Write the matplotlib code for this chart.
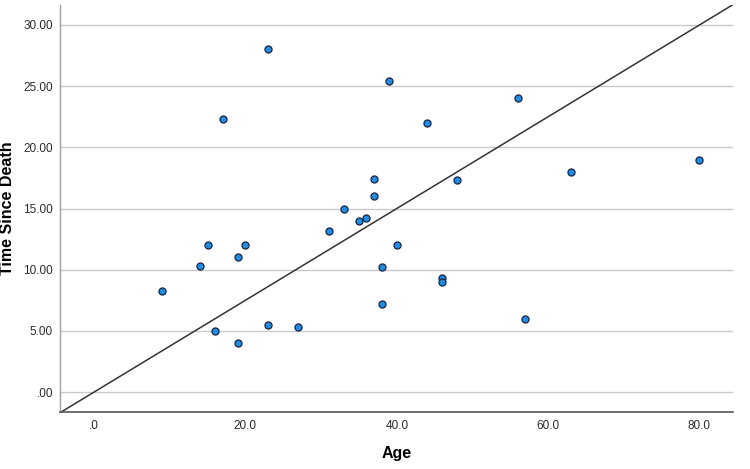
import matplotlib
matplotlib.use("Agg")
import matplotlib.pyplot as plt
from matplotlib import rcParams

rcParams['font.family'] = ['Liberation Sans', 'DejaVu Sans']

# 数据
age = [9, 14, 15, 16, 17, 19, 19, 20, 23, 23, 27, 31, 33, 35, 36, 37, 37,
       38, 38, 39, 40, 44, 46, 46, 48, 56, 57, 63, 80]
time_since_death = [8.3, 10.3, 12.0, 5.0, 22.3, 11.0, 4.0, 12.0, 28.0, 5.45, 5.3,
                    13.2, 15.0, 14.0, 14.2, 17.4, 16.0, 10.2, 7.2, 25.4, 12.0,
                    22.0, 9.3, 9.0, 17.3, 24.0, 6.0, 18.0, 19.0]
ref_slope = 0.375

yticks = [0, 5, 10, 15, 20, 25, 30]
ytick_labels = ['.00', '5.00', '10.00', '15.00', '20.00', '25.00', '30.00']
xticks = [0, 20, 40, 60, 80]
xtick_labels = ['.0', '20.0', '40.0', '60.0', '80.0']

fig = plt.figure(figsize=(7.5, 4.69), dpi=100)
ax = fig.add_axes([0.08, 0.1215, 0.897, 0.8675])

xmin, xmax = -4.5, 84.4
ymin, ymax = -1.63, 31.62

# 网格线
for yv in yticks:
    ax.axhline(yv, color='#c8c8c8', linewidth=1.0, zorder=1)

# 参考线
ax.plot([xmin, xmax], [ref_slope * xmin, ref_slope * xmax], color='#333333',
        linewidth=1.1, zorder=2)

# 散点
ax.scatter(age, time_since_death, s=26, facecolor='#1f8ce6', edgecolor='#1a2540',
           linewidth=0.9, zorder=3)

ax.set_xlim(xmin, xmax)
ax.set_ylim(ymin, ymax)
ax.set_xticks(xticks)
ax.set_xticklabels(xtick_labels)
ax.set_yticks(yticks)
ax.set_yticklabels(ytick_labels)
ax.tick_params(length=0, labelsize=8.5, colors='#2a2a2a', pad=5)
ax.tick_params(axis='x', pad=6)

for s in ['top', 'right']:
    ax.spines[s].set_visible(False)
ax.spines['left'].set_color('#a0a0a0')
ax.spines['bottom'].set_color('#555555')
ax.spines['left'].set_linewidth(1.0)
ax.spines['bottom'].set_linewidth(1.2)

ax.set_xlabel('Age', fontsize=11.5, fontweight='bold', labelpad=10)
ax.set_ylabel('Time Since Death', fontsize=11.5, fontweight='bold', labelpad=6)

fig.savefig('out.png', dpi=100)
